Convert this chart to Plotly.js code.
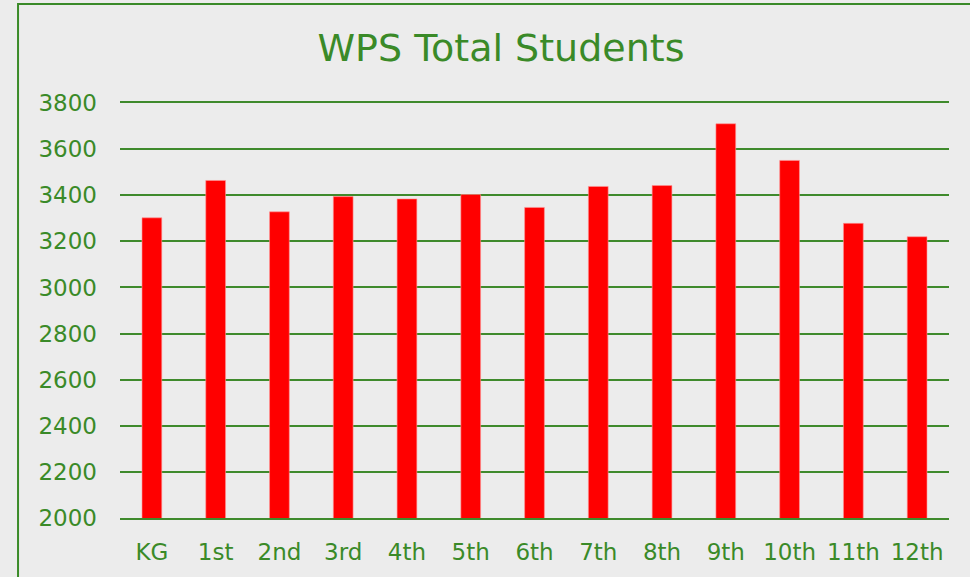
<!DOCTYPE html>
<html>
<head>
<meta charset="utf-8">
<script src="https://cdn.plot.ly/plotly-3.0.1.min.js"></script>
<style>html,body{margin:0;padding:0;background:#ececec;}#chart{width:970px;height:577px;}</style>
</head>
<body>
<div id="chart"></div>
<script>
const grades = ["KG","1st","2nd","3rd","4th","5th","6th","7th","8th","9th","10th","11th","12th"];
const students = [3302,3464,3328,3394,3384,3403,3347,3438,3442,3710,3551,3278,3220];
const yTicks = [2000,2200,2400,2600,2800,3000,3200,3400,3600,3800];

const green = "#3a8a28";
const font = "DejaVu Sans, Verdana, sans-serif";

Plotly.newPlot("chart", [{
  type: "bar",
  x: grades,
  y: students,
  marker: {color: "#ff0000", line: {color: "rgba(255,150,150,0.6)", width: 1}},
  hoverinfo: "x+y"
}], {
  width: 970, height: 577,
  paper_bgcolor: "#ececec",
  plot_bgcolor: "#ececec",
  margin: {l: 120, r: 21, t: 103, b: 59},
  bargap: 0.69,
  title: {text: "WPS Total Students", font: {family: font, size: 38, color: green}, xref: "paper", x: 0.4596, xanchor: "center", y: 0.917, yanchor: "middle"},
  font: {family: font, color: green},
  xaxis: {
    type: "category",
    tickfont: {family: font, size: 23, color: green},
    showgrid: false,
    showline: true,
    mirror: true,
    linecolor: "#3f8a2c",
    linewidth: 2,
    ticks: "",
    ticklabelstandoff: 12
  },
  yaxis: {
    range: [2000, 3800],
    tickvals: yTicks,
    ticktext: yTicks.map(String),
    tickfont: {family: font, size: 23, color: green},
    showgrid: true,
    gridcolor: "#3f8a2c",
    gridwidth: 2,
    zeroline: false,
    showline: false,
    ticks: "",
    ticklabelstandoff: 22
  },
  shapes: [{
    type: "rect", xref: "paper", yref: "paper",
    x0: -0.123, x1: 1.04, y0: -0.2, y1: 1.2386,
    line: {color: "#3a8a28", width: 2}, fillcolor: "rgba(0,0,0,0)", layer: "below"
  }],
  showlegend: false
}, {displayModeBar: false});
</script>
</body>
</html>
